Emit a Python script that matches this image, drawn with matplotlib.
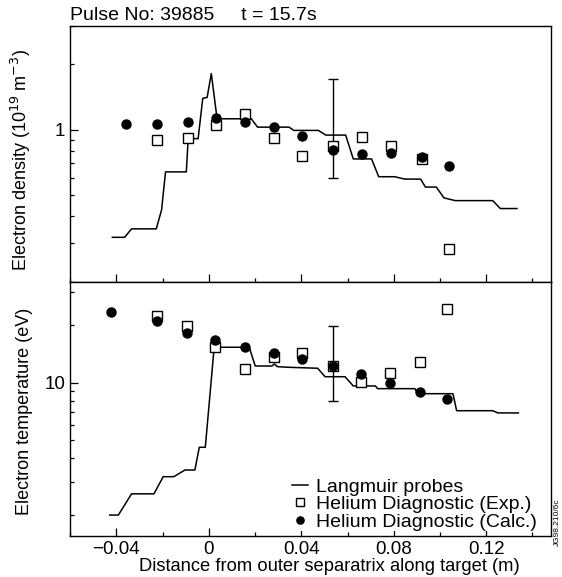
import numpy as np
import matplotlib
matplotlib.use("Agg")
import matplotlib.pyplot as plt
from matplotlib.ticker import FixedLocator, NullFormatter, LogLocator, FuncFormatter

plt.rcParams['font.family'] = ['Liberation Sans', 'DejaVu Sans']
plt.rcParams['font.size'] = 13

# ---- datos ----
# densidad (10^19 m^-3)
lp_x_ne = [-0.0417, -0.0364, -0.0334, -0.0227, -0.0204, -0.0187, -0.0097, -0.0089, -0.0046,
           -0.0026, -0.0007, 0.0011, 0.0036, 0.0184, 0.0211, 0.0347, 0.0368, 0.0474, 0.0506,
           0.0592, 0.0625, 0.0704, 0.0735, 0.0804, 0.0847, 0.0916, 0.0937, 0.0984, 0.1017,
           0.1066, 0.1228, 0.1261, 0.1333]
lp_ne = [0.320, 0.320, 0.350, 0.350, 0.428, 0.640, 0.640, 0.910, 0.910,
         1.394, 1.409, 1.813, 1.123, 1.123, 1.028, 1.028, 0.993, 0.993, 0.945,
         0.945, 0.734, 0.734, 0.608, 0.608, 0.593, 0.593, 0.545, 0.545, 0.486,
         0.472, 0.472, 0.434, 0.434]
calc_x_ne = [-0.0356, -0.0222, -0.0091, 0.0033, 0.0158, 0.0281, 0.0405, 0.0539, 0.0661,
             0.0787, 0.0922, 0.1039]
calc_ne = [1.065, 1.065, 1.091, 1.130, 1.083, 1.028, 0.939, 0.810, 0.774, 0.780, 0.750, 0.678]
exp_x_ne = [-0.0222, -0.0091, 0.0033, 0.0158, 0.0281, 0.0405, 0.0539, 0.0661, 0.0787,
            0.0922, 0.1039]
exp_ne = [0.900, 0.915, 1.046, 1.183, 0.915, 0.761, 0.842, 0.925, 0.842, 0.732, 0.283]
err_x_ne = 0.0539
err_ne = [0.601, 1.72]  # limites de la barra

# temperatura (eV)
lp_x_te = [-0.0428, -0.0391, -0.0334, -0.0237, -0.0197, -0.0151, -0.0103, -0.0060, -0.0041,
           -0.0015, 0.0023, 0.0031, 0.0175, 0.0201, 0.0273, 0.0284, 0.0297, 0.0345, 0.0471,
           0.0503, 0.0589, 0.0625, 0.0721, 0.0730, 0.0891, 0.0905, 0.1056, 0.1072, 0.1228,
           0.1250, 0.1339]
lp_te = [2.01, 2.01, 2.60, 2.60, 3.20, 3.20, 3.47, 3.47, 4.57,
         4.57, 15.17, 15.36, 15.36, 12.24, 12.24, 12.54, 12.14, 12.05, 11.91,
         10.75, 10.75, 9.61, 9.61, 9.30, 9.30, 8.75, 8.75, 7.12, 7.12,
         6.93, 6.93]
calc_x_te = [-0.0421, -0.0226, -0.0094, 0.0028, 0.0155, 0.0280, 0.0404, 0.0538, 0.0658,
             0.0783, 0.0912, 0.1031]
calc_te = [23.5, 21.2, 18.3, 16.8, 15.36, 14.3, 13.4, 12.3, 11.1, 9.93, 8.97, 8.21]
exp_x_te = [-0.0226, -0.0094, 0.0028, 0.0155, 0.0280, 0.0404, 0.0538, 0.0658, 0.0783,
            0.0912, 0.1031]
exp_te = [22.4, 19.9, 15.5, 11.85, 13.7, 14.3, 12.3, 10.1, 11.25, 12.85, 24.4]
err_x_te = 0.0538
err_te = [8.01, 19.95]

# ---- figura ----
fig = plt.figure(figsize=(5.62, 5.77), dpi=100)
ax1 = fig.add_axes([0.1246, 0.5118, 0.8558, 0.4431])
ax2 = fig.add_axes([0.1246, 0.0711, 0.8558, 0.4407])

ms_c = 6.5
ms_s = 6.8

for ax, lx, ly, cx, cy, ex, ey, erx, ery in [
        (ax1, lp_x_ne, lp_ne, calc_x_ne, calc_ne, exp_x_ne, exp_ne, err_x_ne, err_ne),
        (ax2, lp_x_te, lp_te, calc_x_te, calc_te, exp_x_te, exp_te, err_x_te, err_te)]:
    ax.plot(lx, ly, color='black', linewidth=1.1, label='Langmuir probes', zorder=3)
    ax.plot(ex, ey, linestyle='none', marker='s', markersize=ms_s, markerfacecolor='white',
            markeredgecolor='black', markeredgewidth=1.0,
            label='Helium Diagnostic (Exp.)', zorder=4)
    ax.plot(cx, cy, linestyle='none', marker='o', markersize=ms_c, color='black',
            label='Helium Diagnostic (Calc.)', zorder=5)
    yc = np.sqrt(ery[0] * ery[1])
    ax.errorbar([erx], [yc], yerr=[[yc - ery[0]], [ery[1] - yc]], fmt='none',
                ecolor='black', elinewidth=1.0, capsize=3.5, capthick=1.0, zorder=3)
    ax.set_yscale('log')
    ax.set_xlim(-0.059, 0.148)
    ax.set_xticks([-0.04, 0, 0.04, 0.08, 0.12])
    ax.set_xticks([-0.06, -0.02, 0.02, 0.06, 0.10, 0.14], minor=True)
    ax.tick_params(which='both', direction='in', top=False, right=False, width=0.9,
                   labelsize=13.5)
    ax.tick_params(which='major', length=6)
    ax.tick_params(which='minor', length=3)
    for s in ax.spines.values():
        s.set_linewidth(1.0)
    ax.yaxis.set_minor_locator(LogLocator(base=10, subs=np.arange(2, 10)))
    ax.yaxis.set_minor_formatter(NullFormatter())

ax1.set_ylim(0.2, 3)
ax1.yaxis.set_major_locator(FixedLocator([1]))
ax1.yaxis.set_major_formatter(FuncFormatter(lambda v, p: '1'))
ax1.set_xticklabels([])
ax1.set_ylabel('Electron density (10$^{19}$ m$^{-3}$)', fontsize=13)
ax1.yaxis.set_label_coords(-0.077, 0.475)

ax2.set_ylim(1.56, 34)
ax2.yaxis.set_major_locator(FixedLocator([10]))
ax2.yaxis.set_major_formatter(FuncFormatter(lambda v, p: '10'))
ax2.set_xticklabels(['\u22120.04', '0', '0.04', '0.08', '0.12'])
ax2.set_ylabel('Electron temperature (eV)', fontsize=13)
ax2.yaxis.set_label_coords(-0.077, 0.49)
ax2.set_xlabel('Distance from outer separatrix along target (m)', fontsize=13.2)
ax2.xaxis.set_label_coords(0.54, -0.085)

leg = ax2.legend(loc='lower left', bbox_to_anchor=(0.4615, 0.02), frameon=True,
                 handlelength=0.8, handletextpad=0.45, labelspacing=0.0, borderpad=0,
                 borderaxespad=0, fontsize=14, markerscale=0.8)
leg.get_frame().set_edgecolor('none')
leg.get_frame().set_facecolor('white')
leg.get_frame().set_alpha(1)
leg.set_zorder(10)

fig.text(0.1246, 0.974, 'Pulse No: 39885     t = 15.7s', ha='left', va='center', fontsize=14)
fig.text(0.991, 0.095, 'JG98.210/6c', rotation=90, ha='center', va='center', fontsize=6)

fig.savefig('out.png', dpi=100)
